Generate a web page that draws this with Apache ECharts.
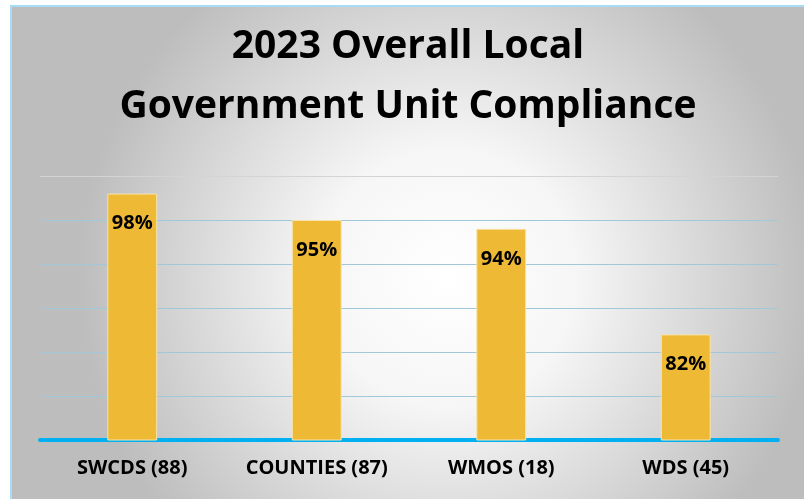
<!DOCTYPE html>
<html><head><meta charset="utf-8">
<script src="https://cdn.jsdelivr.net/npm/echarts@6/dist/echarts.min.js"></script>
<style>
html,body{margin:0;padding:0;background:#fff;width:804px;height:499px;overflow:hidden}
#wrap{position:absolute;left:10px;top:5px;width:794px;height:494px;border-left:2px solid #A6DDF5;border-top:2px solid #A6DDF5;}
#c{width:792px;height:492px}
</style></head><body>
<div id="wrap"><div id="c"></div></div>
<script>
const titleLines = ['2023 Overall Local', 'Government Unit Compliance'];
const categories = ['SWCDS (88)', 'COUNTIES (87)', 'WMOS (18)', 'WDS (45)'];
const compliance = [98, 95, 94, 82];
const yMin = 70, yMax = 100, yStep = 5;

const chart = echarts.init(document.getElementById('c'), null, {renderer:'canvas'});
chart.setOption({
  backgroundColor: {type:'radial', x:0.55, y:0.55, r:0.75,
    colorStops:[{offset:0,color:'#ffffff'},{offset:0.35,color:'#f6f6f6'},{offset:1,color:'#bdbdbd'}]},
  title: {
    text: titleLines.join('\n'), left: 'center', top: 5,
    textStyle: {fontFamily:'Open Sans', fontWeight:'bold', fontSize:39, color:'#000', lineHeight:60}
  },
  grid: {left:28, right:26, top:169, bottom:59, containLabel:false},
  xAxis: {
    type:'category', data: categories,
    axisLine:{show:true, lineStyle:{color:'#00B0F0', width:4}},
    axisTick:{show:false},
    axisLabel:{interval:0, hideOverlap:false, color:'#000', fontFamily:'Open Sans', fontWeight:'bold', fontSize:20, margin:18}
  },
  yAxis: {
    type:'value', min:yMin, max:yMax, interval:yStep,
    axisLine:{show:false}, axisTick:{show:false}, axisLabel:{show:false},
    splitLine:{lineStyle:{color:['#A2C6DA','#A2C6DA','#A2C6DA','#A2C6DA','#A2C6DA','#A2C6DA','#D4D4D4'], width:1.2}}
  },
  series: [{
    type:'bar', data: compliance, barWidth:'27%',
    itemStyle:{color:'#EEB935', borderColor:'#F7E3AA', borderWidth:1},
    label:{show:true, position:'insideTop', distance:20, formatter:'{c}%',
      color:'#000', fontFamily:'Open Sans', fontWeight:'bold', fontSize:20}
  }]
});
</script></body></html>
